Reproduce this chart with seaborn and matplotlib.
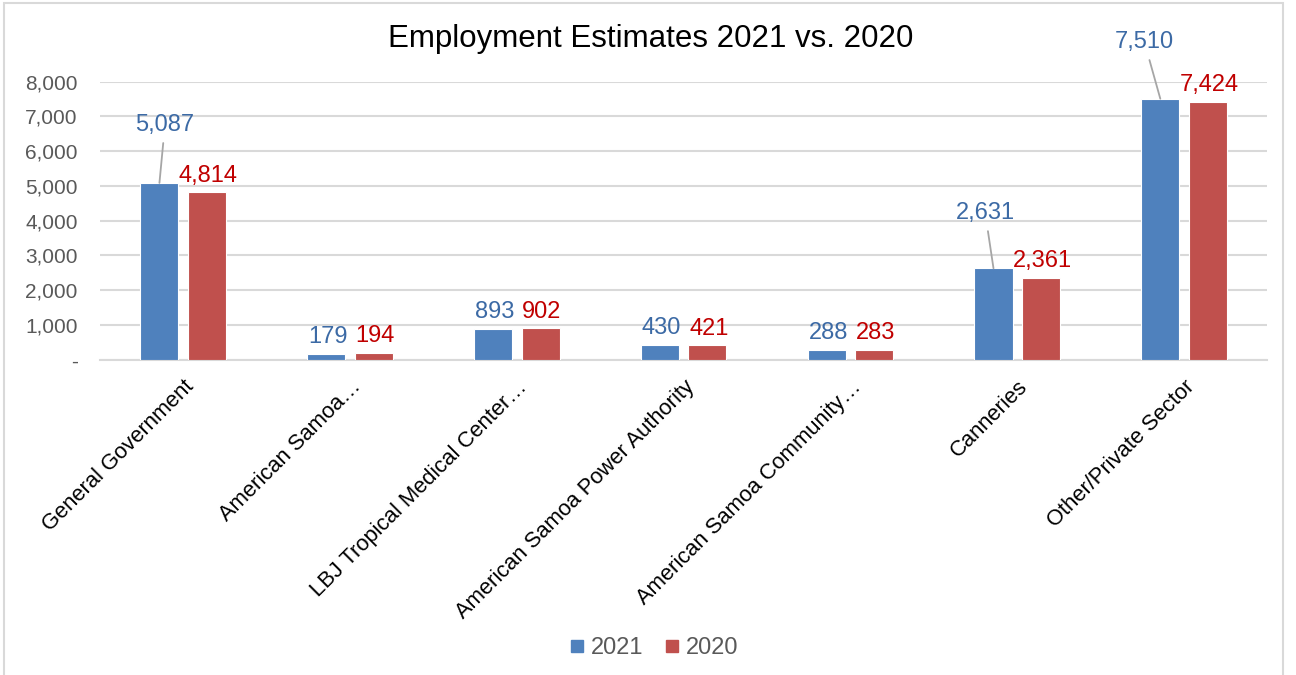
import pandas as pd
import matplotlib.pyplot as plt
import seaborn as sns
from matplotlib.patches import Rectangle

# dữ liệu
categories = ['General Government', 'American Samoa…', 'LBJ Tropical Medical Center…',
              'American Samoa Power Authority', 'American Samoa Community…',
              'Canneries', 'Other/Private Sector']
emp_2021 = [5087, 179, 893, 430, 288, 2631, 7510]
emp_2020 = [4814, 194, 902, 421, 283, 2361, 7424]
years = ['2021', '2020']
yticks = [0, 1000, 2000, 3000, 4000, 5000, 6000, 7000, 8000]
ytick_labels = ['-', '1,000', '2,000', '3,000', '4,000', '5,000', '6,000', '7,000', '8,000']

bar_colors = {'2021': '#4F81BD', '2020': '#C0504D'}
label_colors = {'2021': '#3C6AA5', '2020': '#C00000'}

df = pd.DataFrame({
    'Ngành': categories * 2,
    'Năm': ['2021'] * len(categories) + ['2020'] * len(categories),
    'Số việc làm': emp_2021 + emp_2020,
})

sns.set_style('white')
plt.rcParams['font.family'] = ['Liberation Sans', 'DejaVu Sans']

fig = plt.figure(figsize=(12.96, 6.75), dpi=100)
ax = fig.add_axes([0.077, 0.467, 0.901, 0.412])

sns.barplot(data=df, x='Ngành', y='Số việc làm', hue='Năm', hue_order=years,
            palette=bar_colors, saturation=1, width=0.57, gap=0.2, edgecolor='white',
            linewidth=0.8, ax=ax, legend=True, zorder=3)

ax.set_ylim(0, 8000)
ax.set_yticks(yticks)
ax.set_yticklabels(ytick_labels, fontsize=15, color='#595959')
ax.yaxis.grid(True, color='#d9d9d9', linewidth=1.5, zorder=0)
ax.set_axisbelow(True)
for s in ['left', 'right', 'top']:
    ax.spines[s].set_visible(False)
ax.spines['bottom'].set_color('#d9d9d9')
ax.spines['bottom'].set_linewidth(1.5)
ax.tick_params(axis='both', length=0)
ax.tick_params(axis='y', pad=16)
ax.set_xlabel('')
ax.set_ylabel('')
ax.set_xlim(-0.5, len(categories) - 0.5)
plt.setp(ax.get_xticklabels(), rotation=45, ha='right', rotation_mode='anchor',
         fontsize=15.8, color='#000000')
ax.tick_params(axis='x', pad=12)

# nhãn dữ liệu (một số có đường dẫn)
leader = {('2021', 0): (4, 42), ('2021', 5): (-6, 40), ('2021', 6): (-11.5, 41)}
for cont, yr in zip(ax.containers, years):
    for i, bar in enumerate(cont):
        x = bar.get_x() + bar.get_width() / 2
        h = bar.get_height()
        txt = f'{int(round(h)):,}'
        if (yr, i) in leader:
            ax.annotate(txt, xy=(x, h), xytext=leader[(yr, i)], textcoords='offset points',
                        ha='center', va='center', fontsize=17, color=label_colors[yr],
                        arrowprops=dict(arrowstyle='-', color='#a6a6a6', lw=1.3,
                                        shrinkA=3, shrinkB=0))
        else:
            ax.annotate(txt, xy=(x, h), xytext=(1, 4), textcoords='offset points',
                        ha='center', va='bottom', fontsize=17, color=label_colors[yr])

ax.legend_.remove()
handles = [plt.Line2D([], [], marker='s', linestyle='', markersize=9,
                      color=bar_colors[y]) for y in years]
fig.legend(handles, years, loc='center', bbox_to_anchor=(0.503, 0.04), ncol=2,
           frameon=False, fontsize=17, labelcolor='#595959', handletextpad=0.1,
           columnspacing=0.7, handlelength=1.0)

fig.suptitle('Employment Estimates 2021 vs. 2020', x=0.502, y=0.965, fontsize=22.5,
             color='#000000')

fig.patches.append(Rectangle((0.003, -0.01), 0.987, 1.005, transform=fig.transFigure,
                             fill=False, edgecolor='#d9d9d9', linewidth=1.5))

fig.savefig('out.png', dpi=100)
